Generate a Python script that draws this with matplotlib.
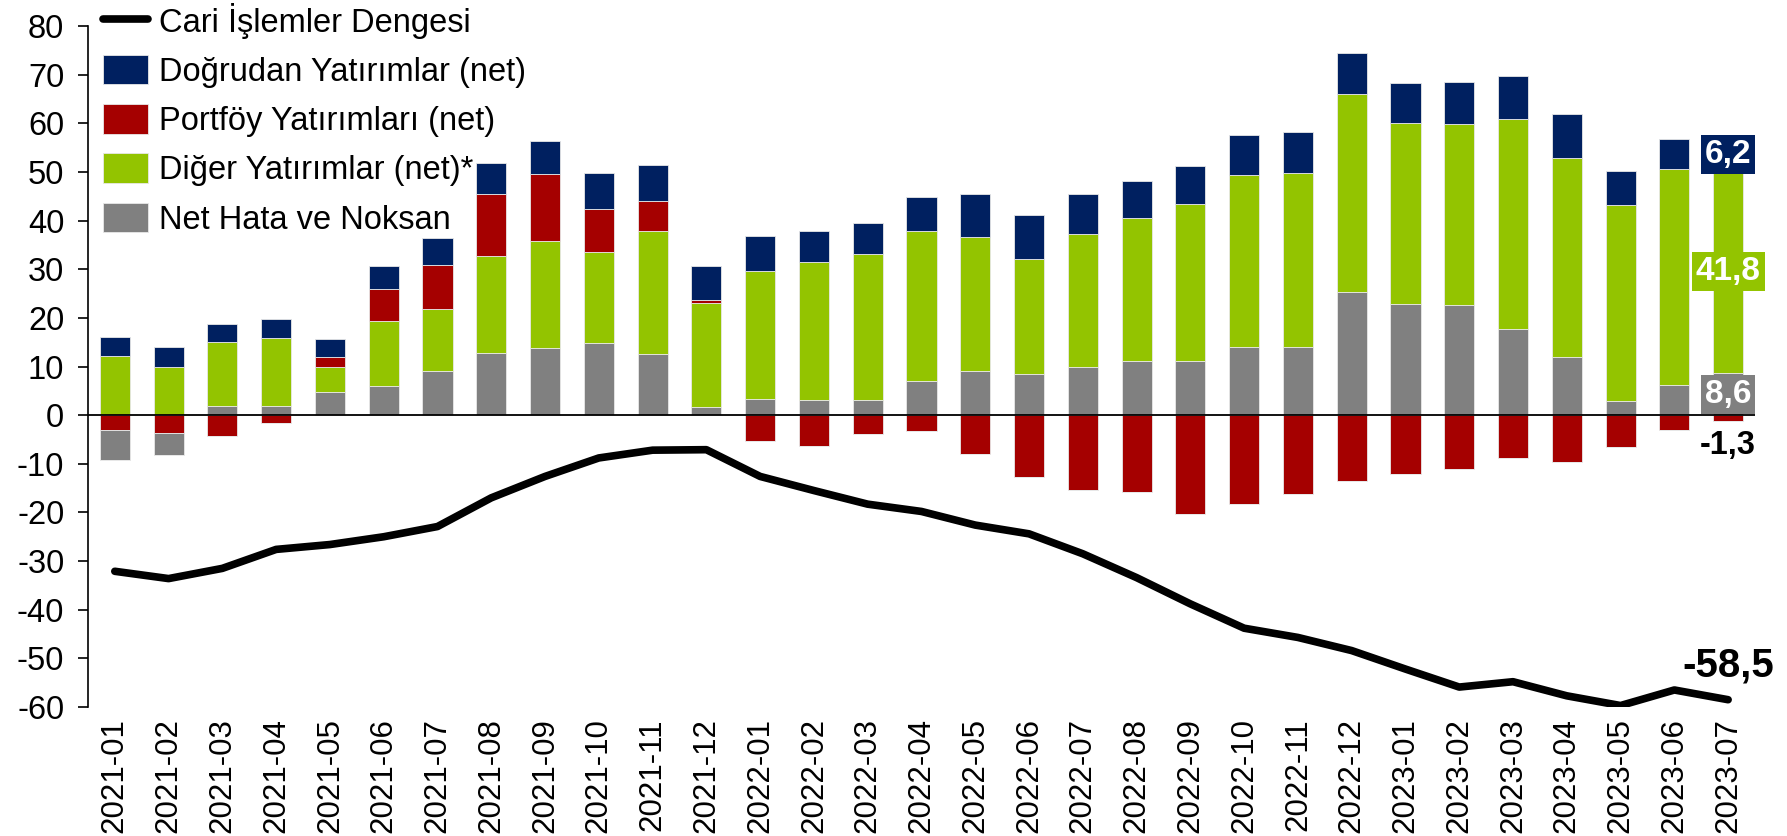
import numpy as np
import matplotlib
matplotlib.use("Agg")
import matplotlib.pyplot as plt

plt.rcParams['font.family'] = ['Liberation Sans', 'DejaVu Sans']
plt.rcParams['axes.unicode_minus'] = False

months = ['2021-01', '2021-02', '2021-03', '2021-04', '2021-05', '2021-06', '2021-07',
          '2021-08', '2021-09', '2021-10', '2021-11', '2021-12',
          '2022-01', '2022-02', '2022-03', '2022-04', '2022-05', '2022-06', '2022-07',
          '2022-08', '2022-09', '2022-10', '2022-11', '2022-12',
          '2023-01', '2023-02', '2023-03', '2023-04', '2023-05', '2023-06', '2023-07']

net_hata = [-6.2, -4.4, 1.9, 1.8, 4.7, 5.9, 9.0, 12.8, 13.8, 14.8, 12.6, 1.6,
            3.4, 3.1, 3.2, 7.1, 9.0, 8.5, 9.9, 11.1, 11.2, 14.1, 14.0, 25.4,
            22.9, 22.7, 17.7, 11.9, 2.9, 6.1, 8.6]
diger = [12.1, 9.8, 13.1, 14.1, 5.1, 13.4, 12.8, 20.0, 22.1, 18.7, 25.3, 21.4,
         26.3, 28.3, 30.0, 30.8, 27.6, 23.7, 27.3, 29.4, 32.2, 35.3, 35.7, 40.6,
         37.2, 37.2, 43.1, 41.0, 40.3, 44.5, 41.8]
portfoy = [-3.0, -3.7, -4.2, -1.7, 2.1, 6.6, 9.1, 12.6, 13.6, 8.8, 6.2, 0.6,
           -5.3, -6.3, -3.8, -3.3, -8.0, -12.8, -15.3, -15.8, -20.4, -18.3, -16.3, -13.6,
           -12.0, -11.0, -8.9, -9.6, -6.6, -3.1, -1.3]
dogrudan = [3.9, 4.3, 3.8, 3.8, 3.7, 4.8, 5.6, 6.4, 6.8, 7.4, 7.3, 7.0,
            7.2, 6.5, 6.4, 7.0, 8.8, 9.0, 8.2, 7.7, 7.8, 8.1, 8.6, 8.4,
            8.2, 8.6, 8.9, 9.0, 7.0, 6.1, 6.2]
cari = [-32.1, -33.6, -31.5, -27.6, -26.6, -25.0, -22.9, -17.0, -12.6, -8.8, -7.2, -7.1,
        -12.6, -15.5, -18.3, -19.8, -22.6, -24.4, -28.5, -33.4, -38.8, -43.8, -45.7, -48.4,
        -52.2, -55.9, -54.8, -57.7, -59.7, -56.5, -58.5]

c_navy = '#002060'
c_red = '#A50000'
c_green = '#93C400'
c_gray = '#808080'

fig = plt.figure(figsize=(17.87, 8.36), dpi=100)
ax = fig.add_axes([0.0492, 0.1543, 0.9329, 0.8146])

x = np.arange(len(months))
w = 0.56

series = {
    'gray': (np.array(net_hata), c_gray, 'Net Hata ve Noksan'),
    'green': (np.array(diger), c_green, 'Diğer Yatırımlar (net)*'),
    'red': (np.array(portfoy), c_red, 'Portföy Yatırımları (net)'),
    'navy': (np.array(dogrudan), c_navy, 'Doğrudan Yatırımlar (net)'),
}

# positive values stack upward gray, green, red, navy
pos_bottom = np.zeros(len(x))
bars = {}
for key in ['gray', 'green', 'red', 'navy']:
    vals, col, lab = series[key]
    v = np.where(vals > 0, vals, 0)
    bars[key] = ax.bar(x, v, w, bottom=pos_bottom, color=col, edgecolor='#e8e8e8',
                       linewidth=0.6, label=lab, zorder=2)
    pos_bottom = pos_bottom + v

# negative values stack downward red first, then gray
neg_bottom = np.zeros(len(x))
for key in ['red', 'gray', 'green', 'navy']:
    vals, col, lab = series[key]
    v = np.where(vals < 0, vals, 0)
    ax.bar(x, v, w, bottom=neg_bottom, color=col, edgecolor='#e8e8e8',
           linewidth=0.6, zorder=2)
    neg_bottom = neg_bottom + v

line, = ax.plot(x, cari, color='black', lw=5.5, solid_capstyle='round',
                solid_joinstyle='round', zorder=4, label='Cari İşlemler Dengesi')

ax.axhline(0, color='black', lw=1.3, zorder=3)

ax.set_xlim(-0.5, len(x) - 0.5)
ax.set_ylim(-60, 80)
ax.set_yticks(np.arange(-60, 81, 10))
ax.set_xticks(x)
ax.set_xticklabels(months, rotation=90, fontsize=22.5)
ax.tick_params(axis='x', length=0, pad=8)
ax.tick_params(axis='y', labelsize=23.5, length=7, width=1.2, pad=10, direction='out')
for s in ['top', 'right', 'bottom']:
    ax.spines[s].set_visible(False)
ax.spines['left'].set_linewidth(1.2)

# labels for the last month
last = len(x) - 1
lab_kw = dict(ha='center', va='center', fontsize=24, fontweight='bold', color='white', zorder=6)
ax.text(last, net_hata[last] + diger[last] + dogrudan[last] / 2, '6,2',
        bbox=dict(boxstyle='square,pad=0.12', fc=c_navy, ec='none'), **lab_kw)
ax.text(last, net_hata[last] + diger[last] / 2, '41,8',
        bbox=dict(boxstyle='square,pad=0.12', fc=c_green, ec='none'), **lab_kw)
ax.text(last, net_hata[last] / 2, '8,6',
        bbox=dict(boxstyle='square,pad=0.12', fc=c_gray, ec='none'), **lab_kw)
ax.text(last, portfoy[last] - 5.0, '-1,3', ha='center', va='center', fontsize=23.5,
        fontweight='bold', color='black', zorder=6)
ax.text(last, cari[last] + 7, '-58,5', ha='center', va='center', fontsize=29,
        fontweight='bold', color='black', zorder=6)

handles = [line, bars['navy'], bars['red'], bars['green'], bars['gray']]
labels = [h.get_label() for h in handles]
fig.legend(handles, labels, loc='upper left', bbox_to_anchor=(0.0575, 0.997),
           frameon=False, fontsize=23.5, handlelength=1.4, handleheight=1.02,
           handletextpad=0.33, labelspacing=0.5, borderpad=0, borderaxespad=0)

fig.savefig('out.png', dpi=100)
